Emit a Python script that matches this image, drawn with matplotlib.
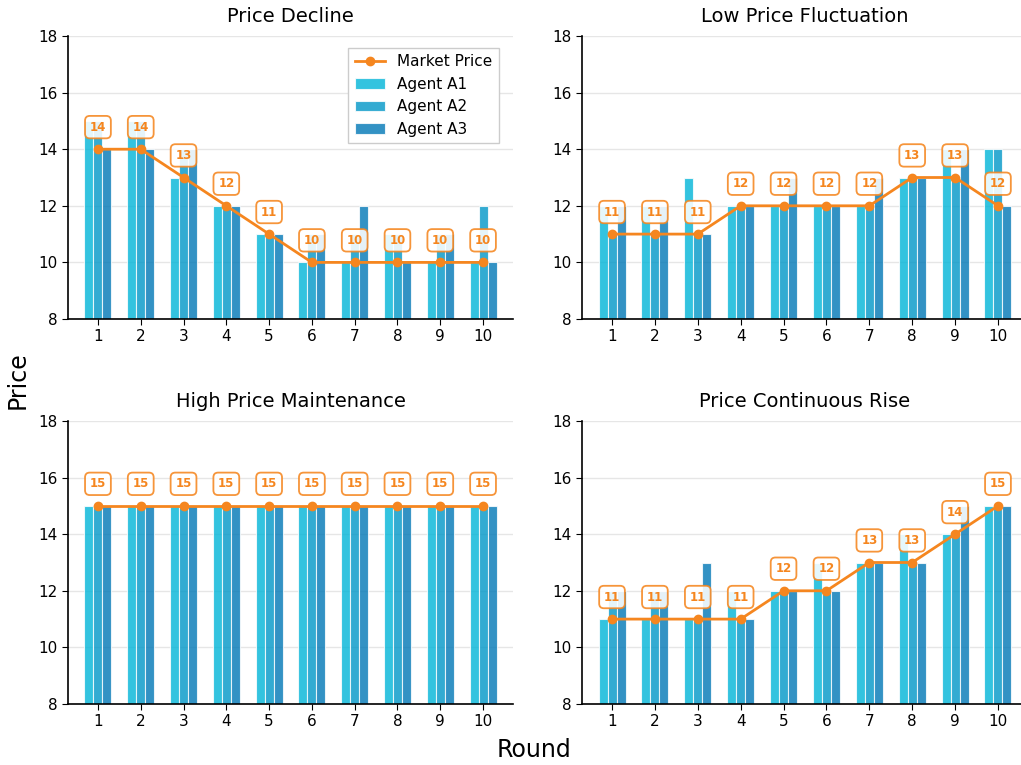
import numpy as np
import matplotlib
matplotlib.use("Agg")
import matplotlib.pyplot as plt

rounds = np.arange(1, 11)

titles = ["Price Decline", "Low Price Fluctuation",
          "High Price Maintenance", "Price Continuous Rise"]

# agent bids per scenario
decline_a1 = [15, 15, 13, 12, 11, 10, 10, 11, 10, 10]
decline_a2 = [15, 15, 14, 12, 11, 11, 11, 11, 11, 12]
decline_a3 = [14, 14, 14, 12, 11, 11, 12, 10, 11, 10]
decline_mkt = [14, 14, 13, 12, 11, 10, 10, 10, 10, 10]

low_a1 = [12, 12, 13, 12, 12, 12, 12, 13, 14, 14]
low_a2 = [11, 11, 11, 12, 12, 12, 12, 13, 13, 14]
low_a3 = [12, 12, 11, 12, 13, 12, 13, 13, 14, 12]
low_mkt = [11, 11, 11, 12, 12, 12, 12, 13, 13, 12]

high_a1 = [15, 15, 15, 15, 15, 15, 15, 15, 15, 15]
high_a2 = [15, 15, 15, 15, 15, 15, 15, 15, 15, 15]
high_a3 = [15, 15, 15, 15, 15, 15, 15, 15, 15, 15]
high_mkt = [15, 15, 15, 15, 15, 15, 15, 15, 15, 15]

rise_a1 = [11, 11, 11, 12, 12, 13, 13, 14, 14, 15]
rise_a2 = [12, 12, 11, 11, 12, 12, 13, 13, 14, 15]
rise_a3 = [12, 12, 13, 11, 12, 12, 13, 13, 15, 15]
rise_mkt = [11, 11, 11, 11, 12, 12, 13, 13, 14, 15]

scenarios = [
    (decline_a1, decline_a2, decline_a3, decline_mkt),
    (low_a1, low_a2, low_a3, low_mkt),
    (high_a1, high_a2, high_a3, high_mkt),
    (rise_a1, rise_a2, rise_a3, rise_mkt),
]

agent_colors = ["#00b4d8", "#0096c7", "#0077b6"]
orange = "#f5861f"

W, H = 1021, 765
fig = plt.figure(figsize=(W / 100, H / 100), dpi=100)

# axes boxes in pixels: left, top, right, bottom
boxes = [(68, 36, 513, 319), (582, 36, 1028, 319),
         (68, 421, 513, 704), (582, 421, 1028, 704)]

bw = 0.21
for i, (box, title, data) in enumerate(zip(boxes, titles, scenarios)):
    l, t, r, b = box
    ax = fig.add_axes([l / W, 1 - b / H, (r - l) / W, (b - t) / H])
    a1, a2, a3, mkt = data
    bars = []
    for k, (vals, name) in enumerate(zip([a1, a2, a3], ["Agent A1", "Agent A2", "Agent A3"])):
        bars.append(ax.bar(rounds + (k - 1) * bw, vals, width=bw, color=agent_colors[k], alpha=0.8,
                           edgecolor="white", linewidth=0.8, label=name, zorder=2))
    line, = ax.plot(rounds, mkt, color=orange, lw=2, marker="o", ms=6, label="Market Price", zorder=3)
    for x, v in zip(rounds, mkt):
        ax.text(x, v + 0.78, str(v), ha="center", va="center", fontsize=8.5, fontweight="bold",
                color=orange, zorder=4,
                bbox=dict(boxstyle="round,pad=0.4", fc="white", ec=orange, lw=1.3, alpha=0.88))
    ax.set_ylim(8, 18)
    ax.set_xlim(0.3, 10.7)
    ax.set_xticks(rounds)
    ax.set_yticks(np.arange(8, 19, 2))
    ax.tick_params(labelsize=11, length=4)
    ax.set_title(title, fontsize=14, pad=10)
    ax.yaxis.grid(True, color="#e6e6e6", lw=1, zorder=0)
    ax.set_axisbelow(True)
    for s in ["top", "right"]:
        ax.spines[s].set_visible(False)
    for s in ["left", "bottom"]:
        ax.spines[s].set_linewidth(1.2)
    if i == 0:
        ax.legend([line] + bars, ["Market Price", "Agent A1", "Agent A2", "Agent A3"],
                  loc="upper right", fontsize=11, framealpha=1, fancybox=False,
                  edgecolor="#cccccc", bbox_to_anchor=(0.985, 0.985))

fig.text(18 / W, 1 - 380 / H, "Price", rotation=90, ha="center", va="center", fontsize=17)
fig.text(534 / W, 1 - 750 / H, "Round", ha="center", va="center", fontsize=17)

fig.savefig("out.png", dpi=100)
